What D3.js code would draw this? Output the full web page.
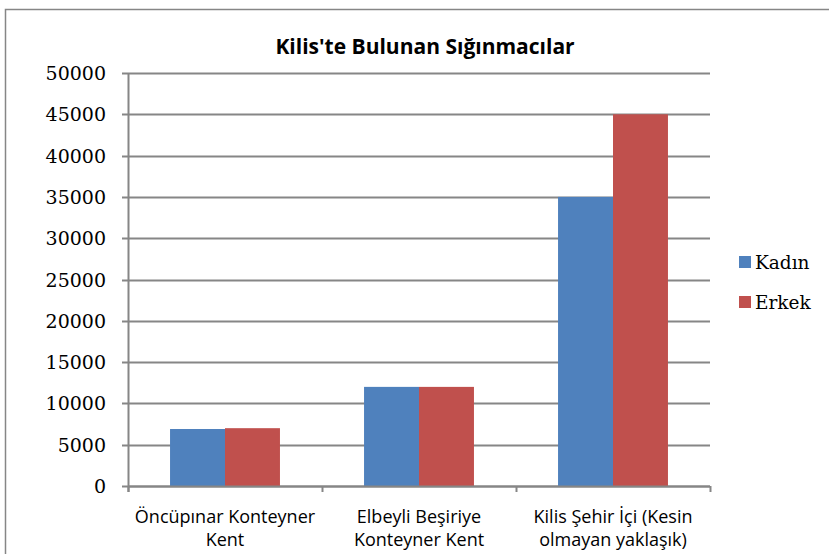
<!DOCTYPE html>
<html lang="tr">
<head>
  <meta charset="UTF-8">
  <title>Kilis'te Bulunan Sığınmacılar</title>
  <style>
    body { margin: 0; background: #fff; }
    svg text.serif { font-family: "DejaVu Serif", serif; }
    svg text.sans { font-family: "Open Sans", "Liberation Sans", sans-serif; }
  </style>
</head>
<body>
  <div id="chart"></div>
  <script src="https://d3js.org/d3.v7.min.js"></script>
  <script>
    const categories = [
      ["Öncüpınar Konteyner", "Kent"],
      ["Elbeyli Beşiriye", "Konteyner Kent"],
      ["Kilis Şehir İçi (Kesin", "olmayan yaklaşık)"]
    ];
    const series = ["Kadın", "Erkek"];
    const kadin = [6900, 12000, 35000];
    const erkek = [7000, 12000, 45000];
    const colors = ["#4f81bd", "#c0504d"];
    const yTicks = [0, 5000, 10000, 15000, 20000, 25000, 30000, 35000, 40000, 45000, 50000];

    const width = 829, height = 554;
    const plot = { left: 128, right: 710, top: 73, bottom: 486 };
    const gridColor = "#868686";

    const svg = d3.select("#chart").append("svg")
      .attr("width", width)
      .attr("height", height);

    // outer chart border
    svg.append("rect")
      .attr("x", 5.5).attr("y", 9.5)
      .attr("width", 840).attr("height", 560)
      .attr("fill", "none")
      .attr("stroke", gridColor)
      .attr("stroke-width", 1.5);

    const x = d3.scaleBand()
      .domain(d3.range(categories.length))
      .range([plot.left, plot.right]);

    const xInner = d3.scaleBand()
      .domain(series)
      .range([0, x.bandwidth()])
      .paddingInner(0)
      .paddingOuter(0.765);

    const y = d3.scaleLinear()
      .domain([0, 50000])
      .range([plot.bottom, plot.top]);

    // gridlines
    svg.append("g")
      .selectAll("line")
      .data(yTicks)
      .enter().append("line")
      .attr("x1", plot.left - 6).attr("x2", plot.right)
      .attr("y1", d => Math.round(y(d)) + 0.5)
      .attr("y2", d => Math.round(y(d)) + 0.5)
      .attr("stroke", gridColor)
      .attr("stroke-width", 2);

    // y labels
    svg.append("g")
      .selectAll("text")
      .data(yTicks)
      .enter().append("text")
      .attr("class", "serif")
      .attr("font-size", 19)
      .attr("x", 106)
      .attr("y", d => y(d) + 7)
      .attr("text-anchor", "end")
      .text(d => d);

    // bars
    const data = categories.map((c, i) => ({ i, values: [kadin[i], erkek[i]] }));
    const groups = svg.append("g")
      .selectAll("g")
      .data(data)
      .enter().append("g")
      .attr("transform", d => `translate(${x(d.i)},0)`);

    groups.selectAll("rect")
      .data(d => d.values.map((v, k) => ({ v, k })))
      .enter().append("rect")
      .attr("x", d => xInner(series[d.k]))
      .attr("width", xInner.bandwidth())
      .attr("y", d => y(d.v))
      .attr("height", d => plot.bottom - y(d.v))
      .attr("fill", d => colors[d.k]);

    // y axis line
    svg.append("line")
      .attr("x1", plot.left + 0.5).attr("x2", plot.left + 0.5)
      .attr("y1", plot.top).attr("y2", plot.bottom + 6)
      .attr("stroke", gridColor).attr("stroke-width", 2);

    // x axis line and ticks
    svg.append("line")
      .attr("x1", plot.left).attr("x2", plot.right)
      .attr("y1", plot.bottom + 0.5).attr("y2", plot.bottom + 0.5)
      .attr("stroke", gridColor).attr("stroke-width", 2);
    svg.append("g")
      .selectAll("line")
      .data(d3.range(categories.length + 1))
      .enter().append("line")
      .attr("x1", d => plot.left + d * x.bandwidth() + 0.5)
      .attr("x2", d => plot.left + d * x.bandwidth() + 0.5)
      .attr("y1", plot.bottom).attr("y2", plot.bottom + 6)
      .attr("stroke", gridColor).attr("stroke-width", 2);

    // x labels
    const xl = svg.append("g")
      .selectAll("text")
      .data(categories)
      .enter().append("text")
      .attr("class", "sans")
      .attr("font-size", 18)
      .attr("text-anchor", "middle");
    xl.append("tspan")
      .attr("x", (d, i) => x(i) + x.bandwidth() / 2)
      .attr("y", 523)
      .text(d => d[0]);
    xl.append("tspan")
      .attr("x", (d, i) => x(i) + x.bandwidth() / 2)
      .attr("y", 546)
      .text(d => d[1]);

    // title
    svg.append("text")
      .attr("class", "sans")
      .attr("font-weight", "bold")
      .attr("font-size", 21)
      .attr("x", 425).attr("y", 54)
      .attr("text-anchor", "middle")
      .text("Kilis'te Bulunan Sığınmacılar");

    // legend
    const legend = svg.append("g")
      .selectAll("g")
      .data(series)
      .enter().append("g")
      .attr("transform", (d, i) => `translate(739, ${256 + i * 40})`);
    legend.append("rect")
      .attr("width", 12).attr("height", 12)
      .attr("fill", (d, i) => colors[i]);
    legend.append("text")
      .attr("class", "serif")
      .attr("font-size", 18.5)
      .attr("x", 16).attr("y", 13)
      .text(d => d);
  </script>
</body>
</html>
